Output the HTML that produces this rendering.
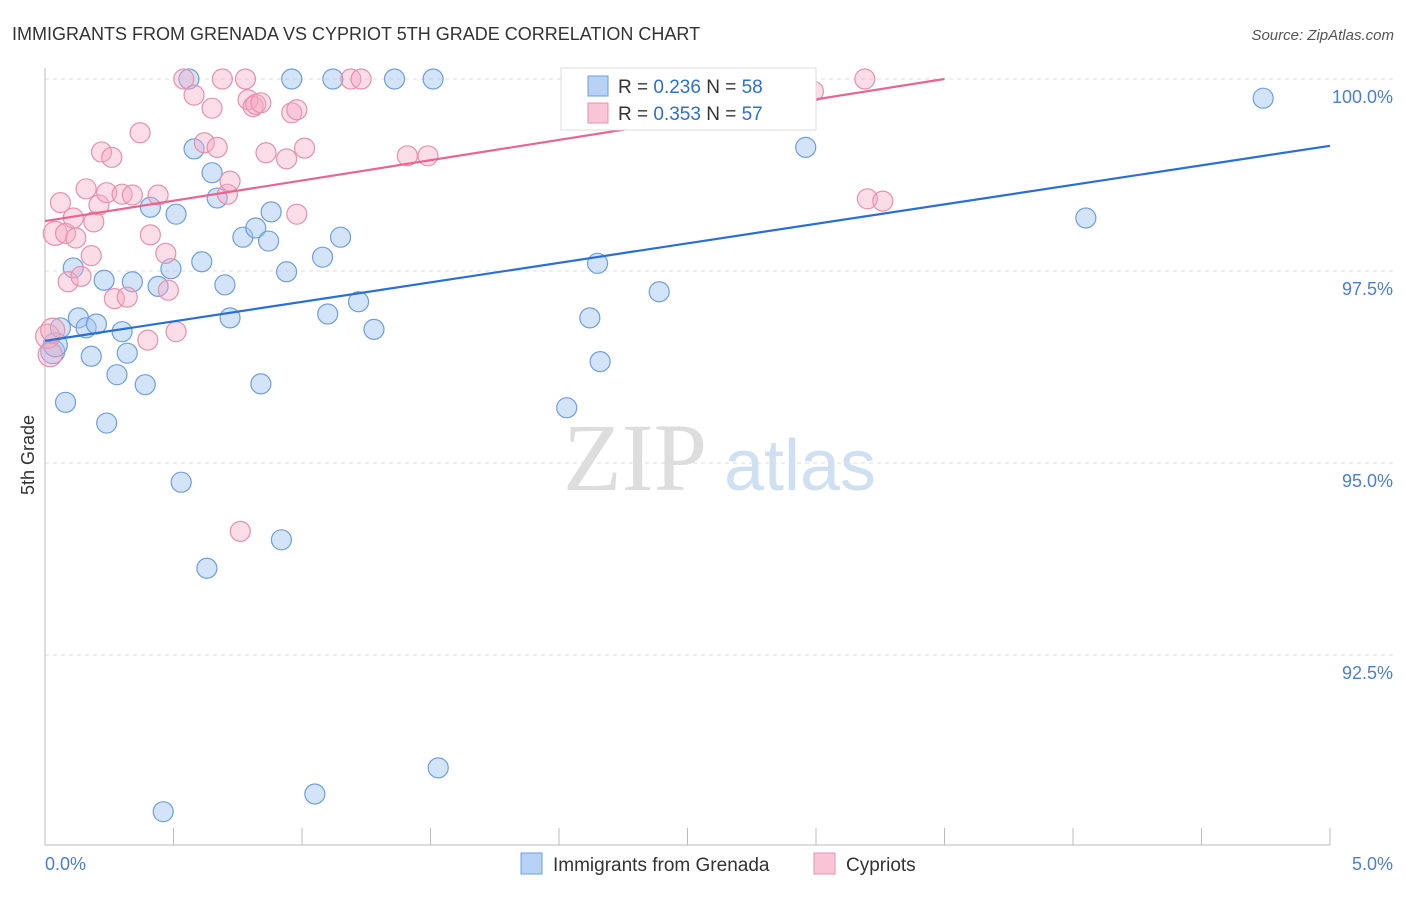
<!DOCTYPE html>
<html><head><meta charset="utf-8"><style>
body{margin:0;background:#fff;font-family:"Liberation Sans",sans-serif}
</style></head><body>
<svg id="c" width="1406" height="892" xmlns="http://www.w3.org/2000/svg">
<text x="12" y="40" font-size="18" fill="#333">IMMIGRANTS FROM GRENADA VS CYPRIOT 5TH GRADE CORRELATION CHART</text>
<text x="1394" y="40" font-size="15" fill="#555" font-style="italic" text-anchor="end">Source: ZipAtlas.com</text>
<text transform="translate(34,455) rotate(-90)" font-size="18" fill="#333" text-anchor="middle">5th Grade</text>
<g><text x="635" y="490" font-size="96" fill="#ddd" font-family="Liberation Serif,serif" text-anchor="middle">ZIP</text><text x="800" y="490" font-size="72" fill="#cfe0f3" text-anchor="middle">atlas</text></g>
<g id="grid"></g><g id="axes"></g><g id="pts"></g><g id="lines"></g>
<g>
<rect x="561" y="68" width="255" height="62" fill="#fff" stroke="#ddd"/>
<rect x="588" y="76" width="20" height="20" fill="#b7d2f5" stroke="#6d9ee0"/>
<rect x="588" y="103" width="20" height="20" fill="#f9c5d6" stroke="#e890ac"/>
<text x="618" y="93" font-size="19" fill="#333">R = <tspan fill="#2f6fd0">0.236</tspan>   N = <tspan fill="#2f6fd0">58</tspan></text>
<text x="618" y="120" font-size="19" fill="#333">R = <tspan fill="#2f6fd0">0.353</tspan>   N = <tspan fill="#2f6fd0">57</tspan></text>
</g>
<g>
<rect x="521" y="853" width="21" height="21" fill="#b7d2f5" stroke="#6d9ee0"/>
<text x="553" y="871" font-size="19" fill="#333">Immigrants from Grenada</text>
<rect x="814" y="853" width="21" height="21" fill="#f9c5d6" stroke="#e890ac"/>
<text x="846" y="871" font-size="19" fill="#333">Cypriots</text>
</g>
</svg>
<script>
const yTicks=[100,97.5,95,92.5];
const yTickLabels=["100.0%","97.5%","95.0%","92.5%"];
const xTickLabels=["0.0%","5.0%"];
const blueX=[.03,.04,.06,.08,.11,.13,.16,.18,.20,.23,.24,.28,.30,.32,.34,.39,.41,.44,.49,.51,.53,.56,.58,.61,.63,.65,.67,.70,.72,.77,.82,.84,.87,.88,.92,.94,.96,1.05,1.08,1.10,1.12,1.15,1.22,1.28,1.36,1.51,1.53,.46,2.03,2.12,2.15,2.16,2.39,2.71,2.96,4.05,4.74];
const blueY=[96.45,96.54,96.76,95.79,97.54,96.89,96.76,96.39,96.81,97.38,95.52,96.15,96.71,96.43,97.36,96.02,98.33,97.30,97.53,98.24,94.75,100,99.09,97.62,93.63,98.78,98.45,97.32,96.89,97.94,98.06,96.03,97.89,98.27,94.00,97.49,100,90.69,97.68,96.94,100,97.94,97.10,96.74,100,100,91.03,90.46,95.72,96.89,97.60,96.32,97.23,100,99.11,98.19,99.75];
const pinkX=[.01,.03,.04,.06,.08,.09,.11,.12,.14,.16,.18,.19,.21,.22,.24,.26,.27,.30,.32,.34,.37,.40,.41,.44,.47,.48,.51,.54,.58,.62,.65,.67,.69,.71,.72,.76,.78,.79,.81,.82,.84,.86,.94,.96,.98,.98,1.01,1.19,1.23,1.41,1.49,2.99,3.19,3.20,3.26,.02];
const pinkY=[96.65,96.73,97.99,98.39,97.99,97.36,98.19,97.93,97.43,98.57,97.70,98.14,98.36,99.05,98.52,98.98,97.14,98.50,97.16,98.49,99.30,96.60,97.97,98.49,97.73,97.25,96.71,100,99.79,99.17,99.62,99.11,100,98.50,98.67,94.11,100,99.73,99.64,99.67,99.69,99.04,98.96,99.56,99.60,98.24,99.10,100,100,99.00,99.00,99.84,100,98.44,98.41,96.41];
const blueTrend=[[0,96.59],[5,99.13]];
const pinkTrend=[[0,98.15],[3.5,100]];
const X=v=>45+v*257, Y=v=>79+(100-v)*76.8;
const NS="http://www.w3.org/2000/svg";
function mk(t,a,p){const e=document.createElementNS(NS,t);for(const k in a)e.setAttribute(k,a[k]);p.appendChild(e);return e;}
const grid=document.getElementById('grid'),axes=document.getElementById('axes');
yTicks.forEach((t,i)=>{
 const l=mk('line',{x1:45,x2:1393,y1:Y(t),y2:Y(t),stroke:'#ddd','stroke-dasharray':'4,4'},grid);
 
 
 const tx=mk('text',{x:1393,y:Y(t)+24,'font-size':18,fill:'#4a7fd4','text-anchor':'end'},axes);
 tx.textContent=yTickLabels[i];
 
 
});
mk('line',{x1:45,x2:45,y1:68,y2:845,stroke:'#bbb'},axes);
mk('line',{x1:45,x2:1330,y1:845,y2:845,stroke:'#bbb'},axes);
for(let i=1;i<=10;i++){const l=mk('line',{x1:X(i*0.5),x2:X(i*0.5),y1:828,y2:845,stroke:'#bbb'},axes);
 
 }
[[0,45,'start'],[5,1393,'end']].forEach((d,i)=>{const t=mk('text',{x:d[1],y:870,'font-size':18,fill:'#4a7fd4','text-anchor':d[2]},axes);t.textContent=xTickLabels[i];
 
 });
const pts=document.getElementById('pts');
function series(xs,ys,fill,stroke,name){xs.forEach((x,i)=>{const c=mk('circle',{cx:X(x),cy:Y(ys[i]),r:(x<0.05?12:10),fill:fill,stroke:stroke,'stroke-width':1.2},pts);
 
 });}
series(blueX,blueY,'rgba(160,196,240,0.45)','#6d9ee0','point-grenada');
series(pinkX,pinkY,'rgba(246,170,196,0.4)','#e890ac','point-cypriots');
const lines=document.getElementById('lines');
const b=mk('line',{x1:X(blueTrend[0][0]),y1:Y(blueTrend[0][1]),x2:X(blueTrend[1][0]),y2:Y(blueTrend[1][1]),stroke:'#2a6fd6','stroke-width':2.2},lines);


const p=mk('line',{x1:X(pinkTrend[0][0]),y1:Y(pinkTrend[0][1]),x2:X(pinkTrend[1][0]),y2:Y(pinkTrend[1][1]),stroke:'#e8658f','stroke-width':2.2},lines);


</script>
</body></html>
